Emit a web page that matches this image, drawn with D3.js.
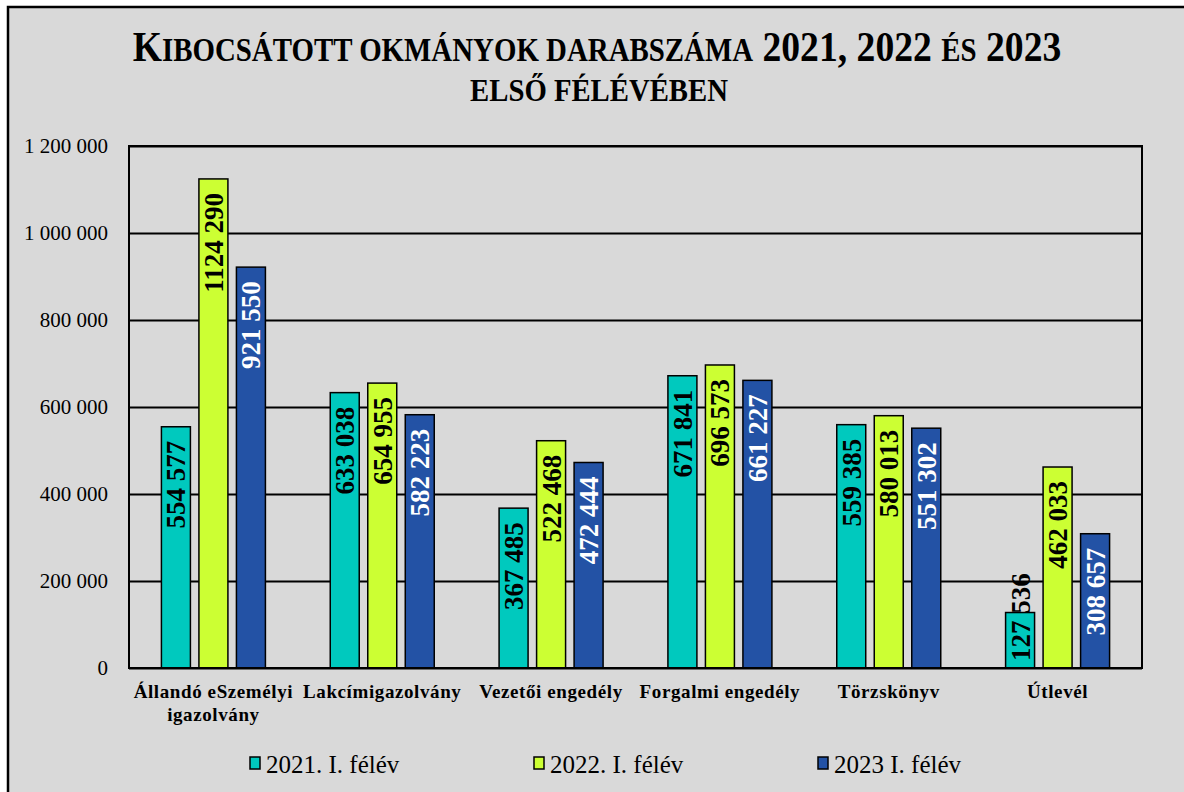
<!DOCTYPE html>
<html>
<head>
<meta charset="utf-8">
<script src="https://cdn.jsdelivr.net/npm/d3@7"></script>
<style>
	body { margin: 0; background: #ffffff; }
	svg { display: block; font-family: 'Liberation Serif', 'Times New Roman', serif; }
</style>
</head>
<body>
<svg id="chart"></svg>
<script>
const categories = ['Állandó eSzemélyi igazolvány', 'Lakcímigazolvány', 'Vezetői engedély', 'Forgalmi engedély', 'Törzskönyv', 'Útlevél'];
const seriesNames = ['2021. I. félév', '2022. I. félév', '2023 I. félév'];
const values2021 = [554577, 633038, 367485, 671841, 559385, 127536];
const values2022 = [1124290, 654955, 522468, 696573, 580013, 462033];
const values2023 = [921550, 582223, 472444, 661227, 551302, 308657];
const yTicks = [0, 200000, 400000, 600000, 800000, 1000000, 1200000];

const fullWidth = 1184;
const fullHeight = 792;
const margin = { top: 146, right: 42, bottom: 124, left: 129 };
const width = fullWidth - margin.left - margin.right;
const height = fullHeight - margin.top - margin.bottom;

const fills = ['#00c9be', '#ccff33', '#2352a5'];
const labelColors = ['#000000', '#000000', '#ffffff'];

const svg = d3.select('#chart').attr('width', fullWidth).attr('height', fullHeight);

// outer frame
svg.append('rect')
	.attr('x', 8).attr('y', 7)
	.attr('width', fullWidth + 20).attr('height', fullHeight + 20)
	.attr('fill', '#d9d9d9')
	.attr('stroke', '#000').attr('stroke-width', 2.5);

// squeeze a text horizontally to a target width (the original uses a condensed look)
function fitWidth(sel, cx, cy, target) {
	const len = sel.node().getComputedTextLength();
	sel.attr('text-anchor', 'middle')
		.attr('transform', `translate(${cx},${cy}) scale(${target / len},1)`);
}

// title
const title = svg.append('text').attr('font-weight', 'bold');
[
	['K', 43], ['IBOCSÁTOTT OKMÁNYOK DARABSZÁMA', 33], [' 2021, 2022 ', 43], ['ÉS', 33], [' 2023', 43]
].forEach(([t, s]) => title.append('tspan').attr('font-size', s).text(t));
fitWidth(title, 597, 61, 929);

const sub = svg.append('text')
	.attr('font-weight', 'bold')
	.attr('font-size', 31)
	.text('ELSŐ FÉLÉVÉBEN');
fitWidth(sub, 599, 101, 258);

const g = svg.append('g').attr('transform', `translate(${margin.left},${margin.top})`);

const x0 = d3.scaleBand().domain(categories).range([0, width]);
const x1 = d3.scaleBand().domain(seriesNames).range([-52, 52]).paddingInner(0.227);
const y = d3.scaleLinear().domain([0, 1200000]).range([height, 0]);

const locale = d3.formatLocale({ decimal: ',', thousands: ' ', grouping: [3], currency: ['', ''] });
const tickFmt = locale.format(',');
// data labels only group the last three digits (e.g. "1124 290")
const labelFmt = v => {
	const hi = Math.floor(v / 1000);
	const lo = String(v % 1000).padStart(3, '0');
	return hi > 0 ? `${hi} ${lo}` : String(v % 1000);
};

const yAxis = g.append('g')
	.call(d3.axisLeft(y).tickValues(yTicks).tickSize(-width).tickPadding(21).tickFormat(tickFmt));
yAxis.select('.domain').remove();
yAxis.selectAll('line').attr('stroke', '#000').attr('stroke-width', 2);
yAxis.selectAll('text')
	.attr('fill', '#000')
	.style('font-size', '21px')
	.style('font-family', "'Liberation Serif', 'Times New Roman', serif");

const rows = categories.map((c, i) => ({
	category: c,
	items: [values2021[i], values2022[i], values2023[i]].map((v, k) => ({ key: seriesNames[k], k, value: v }))
}));

const groups = g.selectAll('g.cat')
	.data(rows)
	.join('g')
	.attr('class', 'cat')
	.attr('transform', d => `translate(${x0(d.category) + x0.bandwidth() / 2},0)`);

groups.selectAll('rect')
	.data(d => d.items)
	.join('rect')
	.attr('x', d => x1(d.key))
	.attr('y', d => y(d.value))
	.attr('width', x1.bandwidth())
	.attr('height', d => height - y(d.value))
	.attr('fill', d => fills[d.k])
	.attr('stroke', '#000')
	.attr('stroke-width', 1.5);

const labelSize = 27;
groups.selectAll('text.val')
	.data(d => d.items)
	.join('text')
	.attr('class', 'val')
	.attr('font-size', labelSize)
	.attr('font-weight', 'bold')
	.attr('fill', d => labelColors[d.k])
	.text(d => labelFmt(d.value))
	.each(function (d) {
		const len = this.getComputedTextLength();
		const cx = x1(d.key) + x1.bandwidth() / 2;
		const barH = height - y(d.value);
		const sel = d3.select(this);
		if (barH >= len + 20) {
			sel.attr('text-anchor', 'end')
				.attr('transform', `translate(${cx},${y(d.value) + 14}) rotate(-90)`);
		} else {
			sel.attr('text-anchor', 'start')
				.attr('transform', `translate(${cx},${height - 7}) rotate(-90)`);
		}
		sel.attr('dy', '0.35em');
	});

// plot area frame
g.append('rect')
	.attr('width', width).attr('height', height)
	.attr('fill', 'none').attr('stroke', '#000').attr('stroke-width', 2);

// category labels
const catLabels = g.append('g').selectAll('text')
	.data(categories)
	.join('text')
	.attr('x', d => x0(d) + x0.bandwidth() / 2)
	.attr('y', height + 30)
	.attr('text-anchor', 'middle')
	.attr('font-weight', 'bold')
	.attr('font-size', 19)
	.attr('letter-spacing', 0.6)
	.attr('fill', '#000');
catLabels.each(function (d) {
	const t = d3.select(this);
	const parts = d === 'Állandó eSzemélyi igazolvány' ? ['Állandó eSzemélyi', 'igazolvány'] : [d];
	parts.forEach((p, i) => {
		t.append('tspan')
			.attr('x', x0(d) + x0.bandwidth() / 2)
			.attr('dy', i === 0 ? 0 : 23)
			.text(p);
	});
});

// legend
const lx = d3.scalePoint().domain(seriesNames).range([250, 818]);
const legend = svg.append('g').selectAll('g')
	.data(seriesNames)
	.join('g')
	.attr('transform', d => `translate(${lx(d)},757)`);
legend.append('rect')
	.attr('width', 10).attr('height', 12)
	.attr('fill', (d, i) => fills[i])
	.attr('stroke', '#000').attr('stroke-width', 1.5);
legend.append('text')
	.attr('x', 16).attr('y', 16)
	.attr('font-size', 25)
	.attr('fill', '#000')
	.text(d => d);
</script>
</body>
</html>
